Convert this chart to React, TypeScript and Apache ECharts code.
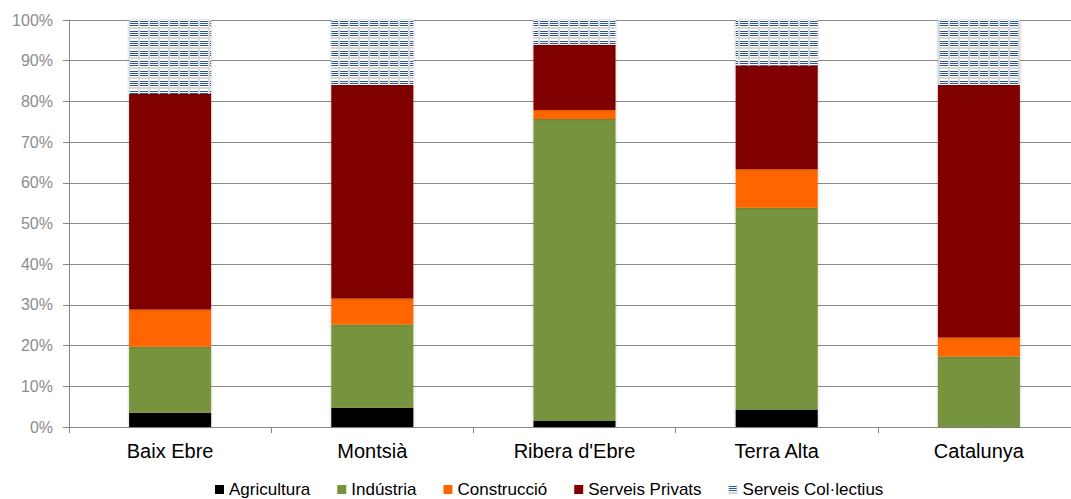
import React, { useEffect, useRef } from "react";
import * as echarts from "echarts";

const categories = ["Baix Ebre", "Montsià", "Ribera d'Ebre", "Terra Alta", "Catalunya"];
const seriesNames = ["Agricultura", "Indústria", "Construcció", "Serveis Privats", "Serveis Col·lectius"];
const agricultura = [3.5, 4.7, 1.5, 4.3, 0];
const industria = [16.2, 20.5, 74.2, 49.6, 17.3];
const construccio = [9.2, 6.4, 2.2, 9.4, 4.7];
const serveisPrivats = [52.9, 52.4, 16.0, 25.5, 62.0];
const serveisCollectius = [18.2, 16.0, 6.1, 11.2, 16.0];

const FONT = "'Liberation Sans', Arial, sans-serif";

function makePattern() {
  const c = document.createElement("canvas");
  c.width = 10;
  c.height = 10;
  const ctx = c.getContext("2d")!;
  ctx.fillStyle = "#ffffff";
  ctx.fillRect(0, 0, 10, 10);
  ctx.fillStyle = "#d6d6d6";
  ctx.fillRect(0, 7, 10, 2);
  ctx.fillRect(8, 0, 2, 10);
  ctx.fillStyle = "#2f5496";
  ctx.fillRect(0, 1, 8, 1);
  ctx.fillRect(0, 3, 8, 1);
  ctx.fillRect(0, 5, 8, 1);
  return { image: c, repeat: "repeat" as const };
}

export default function App() {
  const ref = useRef<HTMLDivElement>(null);
  useEffect(() => {
    document.body.style.margin = "0";
    const chart = echarts.init(ref.current!, null, { renderer: "svg" });
    const pattern = makePattern();
    const shadow = { shadowBlur: 3, shadowColor: "rgba(0,0,0,0.25)" };
    const values = [agricultura, industria, construccio, serveisPrivats, serveisCollectius];
    const colors: any[] = ["#000000", "#77933c", "#ff6600", "#800000", pattern];
    chart.setOption({
      animation: false,
      backgroundColor: "#ffffff",
      grid: { left: 69, top: 20, width: 1011, height: 407 },
      legend: {
        left: 215,
        top: 481,
        padding: 0,
        icon: "rect",
        itemWidth: 9,
        itemHeight: 9,
        itemGap: 27,
        data: seriesNames,
        textStyle: { fontSize: 17, color: "#000000", fontFamily: FONT },
      },
      xAxis: {
        type: "category",
        data: categories,
        axisLine: { show: true, lineStyle: { color: "#888888", width: 1 } },
        axisTick: { show: true, length: 6, lineStyle: { color: "#888888" } },
        axisLabel: { fontSize: 20, color: "#000000", fontFamily: FONT, margin: 14 },
      },
      yAxis: {
        type: "value",
        min: 0,
        max: 100,
        interval: 10,
        axisLine: { show: true, lineStyle: { color: "#888888", width: 1 } },
        axisTick: { show: true, length: 6, lineStyle: { color: "#888888" } },
        axisLabel: { formatter: "{value}%", fontSize: 16, color: "#8c8c8c", fontFamily: FONT, margin: 16 },
        splitLine: { show: true, lineStyle: { color: "#8a8a8a", width: 1 } },
      },
      series: seriesNames.map((name, i) => ({
        name,
        type: "bar",
        stack: "total",
        barWidth: 82,
        data: values[i],
        itemStyle: { color: colors[i], ...shadow },
        emphasis: { disabled: true },
      })),
    });
    return () => chart.dispose();
  }, []);
  return (
    <div style={{ position: "absolute", left: 0, top: 0, width: 1071, height: 499, overflow: "hidden" }}>
      <div ref={ref} style={{ width: 1090, height: 499 }} />
    </div>
  );
}
